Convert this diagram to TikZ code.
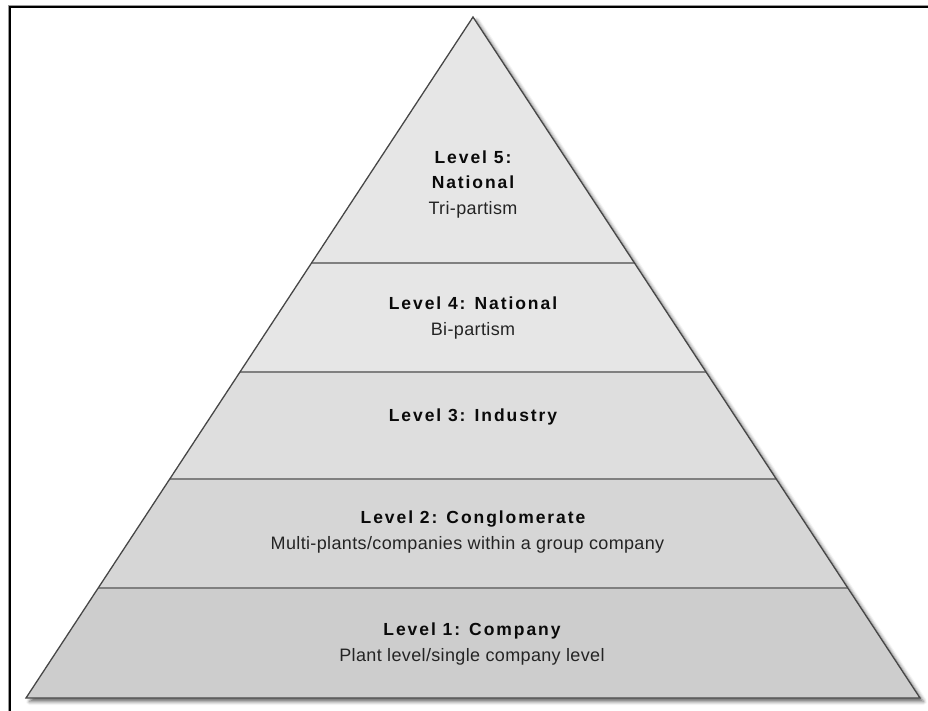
\documentclass[tikz,border=0pt]{standalone}
\usepackage{fontspec}
\setmainfont{Liberation Sans}
\newfontfamily\headfont{Liberation Sans}[LetterSpace=11]
\newfontfamily\bodyfont{Liberation Sans}[LetterSpace=2]
\usetikzlibrary{shadows.blur,calc}

\definecolor{bandA}{HTML}{E6E6E6}
\definecolor{bandB}{HTML}{E6E6E6}
\definecolor{bandC}{HTML}{DEDEDE}
\definecolor{bandD}{HTML}{D6D6D6}
\definecolor{bandE}{HTML}{CDCDCD}

\tikzset{
  headtext/.style={anchor=base, inner sep=0pt, text=black!96,
    font=\headfont\bfseries\fontsize{17.5}{20}\selectfont},
  bodytext/.style={anchor=base, inner sep=0pt, text=black!86,
    font=\bodyfont\fontsize{18}{21}\selectfont},
  divider/.style={draw=black!50, line width=1.2pt},
  outline/.style={draw=black!72, line width=1.3pt, line join=miter},
}

\begin{document}
\begin{tikzpicture}[x=1pt, y=-1pt]
\useasboundingbox (0,0) rectangle (928,711);
\clip (0,0) rectangle (928,711);

% page frame (runs off the right and bottom edges)
\draw[black!40, line width=0.8pt] (8.3,760) -- (8.3,5) -- (960,5);
\draw[black, line width=2.2pt] (10.2,760) -- (10.2,6.8) -- (960,6.8);

% pyramid corners
\coordinate (apex) at (473,17);
\coordinate (bl) at (26,698);
\coordinate (br) at (920,698);

% drop shadow
\fill[white, blur shadow={shadow xshift=3.5pt, shadow yshift=-3.5pt,
  shadow blur radius=3.5pt, shadow opacity=60}]
  (apex) -- (bl) -- (br) -- cycle;

% shaded bands
\begin{scope}
  \clip (apex) -- (bl) -- (br) -- cycle;
  \fill[bandA] (0,0)   rectangle (928,263);
  \fill[bandB] (0,263) rectangle (928,372);
  \fill[bandC] (0,372) rectangle (928,479);
  \fill[bandD] (0,479) rectangle (928,588);
  \fill[bandE] (0,588) rectangle (928,700);
\end{scope}

% band dividers
\foreach \t in {0.3612,0.5213,0.6784,0.8385}
  \draw[divider] ($(apex)!\t!(bl)$) -- ($(apex)!\t!(br)$);

% pyramid outline
\draw[outline] (apex) -- (bl) -- (br) -- cycle;

% level 5
\node[headtext] (l5a) at (473,163.3) {Level 5:};
\node[headtext] (l5b) at (473,188.6) {National};
\node[bodytext] (l5c) at (473,215) {Tri-partism};
% level 4
\node[headtext] (l4a) at (473,309.3) {Level 4: National};
\node[bodytext] (l4b) at (473,335) {Bi-partism};
% level 3
\node[headtext] (l3a) at (473,421.7) {Level 3: Industry};
% level 2
\node[headtext] (l2a) at (473,523.3) {Level 2: Conglomerate};
\node[bodytext] (l2b) at (467.5,549.3) {Multi-plants/companies within a group company};
% level 1
\node[headtext] (l1a) at (472,635.3) {Level 1: Company};
\node[bodytext] (l1b) at (472,661.7) {Plant level/single company level};
\end{tikzpicture}
\end{document}
